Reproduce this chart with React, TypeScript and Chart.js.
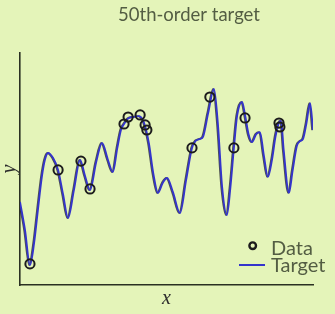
import React, { useEffect, useRef } from "react";
import { Chart, registerables } from "chart.js";

Chart.register(...registerables);

// ---- text ----
const TITLE = "50th-order target";
const X_LABEL = "x";
const Y_LABEL = "y";
const DATA_LABEL = "Data";
const TARGET_LABEL = "Target";

// ---- target curve (x and y in [0, 1]) ----
const targetX = [
  0.0, 0.017, 0.034, 0.048, 0.061, 0.075, 0.085, 0.096, 0.113, 0.13, 0.147, 0.164,
  0.184, 0.205, 0.222, 0.239, 0.26, 0.28, 0.3, 0.317, 0.332, 0.345, 0.355, 0.369,
  0.386, 0.406, 0.418, 0.428, 0.44, 0.455, 0.471, 0.487, 0.502, 0.522, 0.546, 0.567,
  0.587, 0.6, 0.615, 0.625, 0.642, 0.662, 0.675, 0.69, 0.706, 0.718, 0.73, 0.741,
  0.758, 0.768, 0.78, 0.792, 0.806, 0.819, 0.832, 0.846, 0.86, 0.872, 0.884, 0.891,
  0.9, 0.918, 0.93, 0.945, 0.956, 0.966, 0.978, 0.99, 1.0,
];
const targetY = [
  0.358, 0.237, 0.086, 0.18, 0.323, 0.47, 0.54, 0.569, 0.547, 0.496, 0.39, 0.289,
  0.409, 0.539, 0.47, 0.409, 0.53, 0.612, 0.54, 0.487, 0.59, 0.67, 0.694, 0.718,
  0.724, 0.728, 0.715, 0.68, 0.61, 0.48, 0.397, 0.44, 0.461, 0.4, 0.31, 0.453,
  0.591, 0.622, 0.63, 0.64, 0.74, 0.845, 0.7, 0.42, 0.302, 0.42, 0.591, 0.73,
  0.789, 0.733, 0.65, 0.616, 0.65, 0.659, 0.56, 0.466, 0.54, 0.64, 0.7, 0.707,
  0.58, 0.397, 0.49, 0.6, 0.62, 0.63, 0.7, 0.784, 0.668,
];

// ---- sampled data points ----
const dataX = [
  0.034, 0.13, 0.208, 0.239, 0.355, 0.369, 0.41, 0.427, 0.433, 0.587, 0.648, 0.73,
  0.768, 0.884, 0.887,
];
const dataY = [
  0.091, 0.496, 0.534, 0.414, 0.694, 0.724, 0.733, 0.69, 0.668, 0.591, 0.81, 0.591,
  0.72, 0.698, 0.681,
];

// ---- styles ----
const BG = "#e4f4b9";
const TEXT = "#535d43";
const AXIS = "#2a3022";
const BLUE = "#3434cc";
const MARK = "#1c1c1c";

const overlay = {
  id: "overlay",
  beforeDraw(chart: any) {
    const ctx = chart.ctx;
    ctx.save();
    ctx.fillStyle = BG;
    ctx.fillRect(0, 0, chart.width, chart.height);
    ctx.restore();
  },
  beforeDatasetDraw(chart: any, args: any) {
    if (args.index === 0) {
      const ctx = chart.ctx;
      ctx.save();
      ctx.shadowColor = "rgba(10,10,30,0.7)";
      ctx.shadowOffsetX = -0.8;
      ctx.shadowOffsetY = 0;
      ctx.shadowBlur = 0.5;
    }
  },
  afterDatasetDraw(chart: any, args: any) {
    if (args.index === 0) chart.ctx.restore();
  },
  afterDraw(chart: any) {
    const ctx = chart.ctx;
    ctx.save();
    // title
    ctx.fillStyle = TEXT;
    ctx.font = "18.5px Lato";
    ctx.textAlign = "center";
    ctx.textBaseline = "alphabetic";
    ctx.fillText(TITLE, 189, 21);

    // legend
    const ds = chart.data.datasets;
    ctx.strokeStyle = MARK;
    ctx.lineWidth = 2.4;
    ctx.beginPath();
    ctx.arc(252.7, 245.7, 3.3, 0, Math.PI * 2);
    ctx.stroke();
    ctx.strokeStyle = BLUE;
    ctx.lineWidth = 2;
    ctx.beginPath();
    ctx.moveTo(239, 265);
    ctx.lineTo(265, 265);
    ctx.stroke();
    ctx.fillStyle = TEXT;
    ctx.font = "20px Lato";
    ctx.textAlign = "left";
    ctx.fillText(ds[1].label, 271, 255);
    ctx.fillText(ds[0].label, 271, 272);
    ctx.restore();
  },
};

export default function App() {
  const ref = useRef<HTMLCanvasElement | null>(null);

  useEffect(() => {
    if (!ref.current) return;
    const target = targetX.map((x, i) => ({ x, y: targetY[i] }));
    const points = dataX.map((x, i) => ({ x, y: dataY[i] }));
    const chart = new Chart(ref.current, {
      type: "scatter",
      data: {
        datasets: [
          {
            label: TARGET_LABEL,
            data: target,
            showLine: true,
            borderColor: BLUE,
            borderWidth: 1.9,
            pointRadius: 0,
            cubicInterpolationMode: "monotone",
            order: 2,
          },
          {
            label: DATA_LABEL,
            data: points,
            showLine: false,
            pointStyle: "circle",
            pointRadius: 4.6,
            pointBorderWidth: 2,
            pointBorderColor: MARK,
            pointBackgroundColor: "rgba(0,0,0,0)",
            borderColor: MARK,
            backgroundColor: "rgba(0,0,0,0)",
            order: 1,
          },
        ],
      },
      options: {
        animation: false,
        responsive: false,
        devicePixelRatio: 1,
        layout: { padding: { left: 0, top: 53, right: 22, bottom: 0 } },
        plugins: {
          legend: { display: false },
          title: { display: false },
          tooltip: { enabled: false },
        },
        scales: {
          x: {
            type: "linear",
            min: 0,
            max: 1,
            grid: { display: false, drawTicks: false },
            ticks: { display: false },
            border: { display: true, color: AXIS, width: 1.6 },
            title: {
              display: true,
              text: X_LABEL,
              color: "#2b2b2b",
              font: { family: "Liberation Serif", style: "italic", size: 20, lineHeight: 1 },
              padding: { top: 4, bottom: 5 },
            },
          },
          y: {
            type: "linear",
            min: 0,
            max: 1,
            grid: { display: false, drawTicks: false },
            ticks: { display: false },
            border: { display: true, color: AXIS, width: 1.6 },
            title: {
              display: true,
              text: Y_LABEL,
              color: "#2b2b2b",
              font: { family: "Liberation Serif", style: "italic", size: 20, lineHeight: 0.4 },
              padding: { top: 6, bottom: 6 },
            },
          },
        },
      },
      plugins: [overlay],
    });
    return () => chart.destroy();
  }, []);

  return (
    <div style={{ position: "fixed", left: 0, top: 0, width: 335, height: 314, background: BG }}>
      <canvas ref={ref} width={335} height={314} style={{ display: "block" }} />
    </div>
  );
}
